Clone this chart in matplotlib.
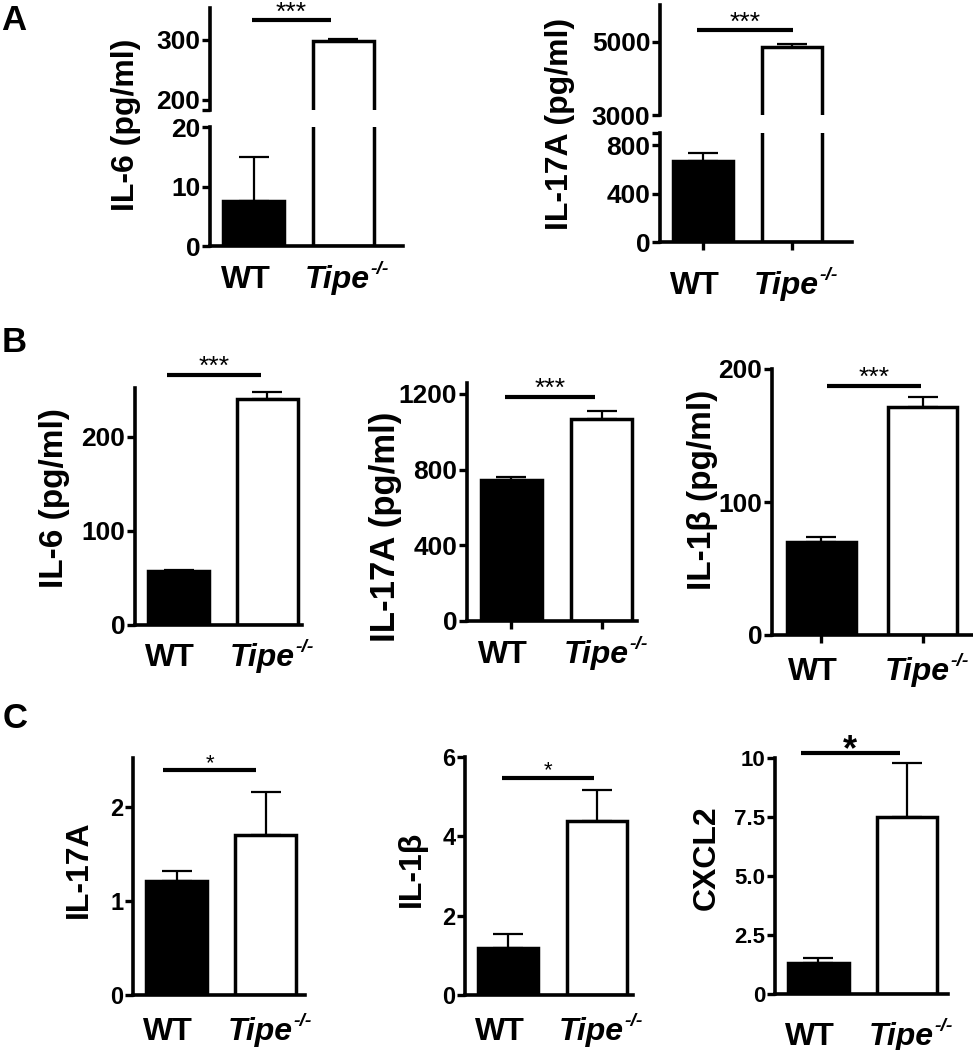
import numpy as np
import matplotlib.pyplot as plt

plt.rcParams['font.family'] = ['Liberation Sans', 'DejaVu Sans']
plt.rcParams['font.weight'] = 'bold'

# group labels
groups = ['WT', 'Tipe']
group_sup = '-/-'

# panel A (broken axes)
a_il6_mean = [7.6, 298]
a_il6_err = [7.3, 3]
a_il17_mean = [670, 4850]
a_il17_err = [67, 85]

# panel B
b_il6_mean = [57, 240]
b_il6_err = [1, 8]
b_il17_mean = [745, 1067]
b_il17_err = [17, 43]
b_il1b_mean = [70, 171.6]
b_il1b_err = [3.7, 7.5]

# panel C
c_il17_mean = [1.21, 1.70]
c_il17_err = [0.11, 0.46]
c_il1b_mean = [1.18, 4.38]
c_il1b_err = [0.35, 0.79]
c_cxcl2_mean = [1.31, 7.5]
c_cxcl2_err = [0.22, 2.3]

W, H = 973, 1050
fig = plt.figure(figsize=(W / 100, H / 100), dpi=100)


# pixel box (left, top, right, bottom) -> figure rect
def box(x0, y0, x1, y1):
    return [x0 / W, 1 - y1 / H, (x1 - x0) / W, (y1 - y0) / H]


def bars(ax, mean, err, xmax, ylim):
    x = np.arange(len(mean))
    ax.bar(x, mean, width=0.68, color=['black', 'white'], edgecolor='black', linewidth=2.5, zorder=2)
    ax.errorbar(x, mean, yerr=[np.zeros(len(err)), err], fmt='none', ecolor='black',
                elinewidth=1.6, capsize=11, capthick=1.6, zorder=3)
    ax.set_xlim(-0.49, xmax)
    ax.set_ylim(*ylim)
    ax.spines['top'].set_visible(False)
    ax.spines['right'].set_visible(False)
    ax.spines['left'].set_linewidth(2.6)
    ax.spines['bottom'].set_linewidth(2.6)


def yaxis(ax, ticks, labels, size=19):
    ax.set_yticks(ticks)
    ax.set_yticklabels(labels)
    ax.tick_params(axis='y', length=6, width=2.4, labelsize=size, pad=1)


def xaxis(ax, tick_len, pad):
    ax.set_xticks([0, 1])
    ax.set_xticklabels([])
    ax.tick_params(axis='x', length=tick_len, width=2.4)
    off = -(tick_len + pad)
    ax.annotate(groups[0], xy=(0, 0), xycoords=('data', 'axes fraction'), xytext=(-6, off),
                textcoords='offset points', ha='center', va='top', fontsize=23, fontweight='bold')
    t = ax.annotate(groups[1], xy=(1, 0), xycoords=('data', 'axes fraction'), xytext=(-4, off),
                    textcoords='offset points', ha='center', va='top', fontsize=23,
                    fontweight='bold', style='italic')
    ax.annotate(group_sup, xy=(1, 1), xycoords=t, xytext=(0.5, 3), textcoords='offset points',
                ha='left', va='top', fontsize=14, fontweight='bold', style='italic')


def sig(ax, x0, x1, y, stars, size=18, off=1, weight='normal'):
    ax.plot([x0, x1], [y, y], color='black', lw=3, clip_on=False, solid_capstyle='butt')
    ax.annotate(stars, xy=((x0 + x1) / 2, y), xytext=(0, off), textcoords='offset points',
                ha='center', va='baseline', fontsize=size, fontweight=weight, annotation_clip=False)


def ylab(x, y, text, size=23):
    fig.text(x / W, 1 - y / H, text, rotation=90, ha='center', va='center', fontsize=size, fontweight='bold')


# ---- A left: IL-6 broken axis
ax_lo = fig.add_axes(box(210, 127, 403, 246))
bars(ax_lo, a_il6_mean, a_il6_err, 1.67, (0, 20))
yaxis(ax_lo, [0, 10, 20], ['0', '10', '20'])
xaxis(ax_lo, 0, 14)
ax_hi = fig.add_axes(box(210, 8, 403, 110))
bars(ax_hi, a_il6_mean, a_il6_err, 1.67, (183, 353))
ax_hi.spines['bottom'].set_visible(False)
ax_hi.set_xticks([])
yaxis(ax_hi, [183, 200, 300], ['', '200', '300'])
sig(ax_hi, -0.02, 0.86, 333, '***', 19, 0)
ylab(126, 125, 'IL-6 (pg/ml)')

# ---- A right: IL-17A broken axis
ax_lo = fig.add_axes(box(660, 133, 852, 242))
bars(ax_lo, a_il17_mean, a_il17_err, 1.68, (0, 900))
yaxis(ax_lo, [0, 400, 800, 900], ['0', '400', '800', ''])
xaxis(ax_lo, 6, 15)
ax_hi = fig.add_axes(box(660, 5, 852, 115))
bars(ax_hi, a_il17_mean, a_il17_err, 1.68, (3000, 6000))
ax_hi.spines['bottom'].set_visible(False)
ax_hi.set_xticks([])
yaxis(ax_hi, [3000, 5000], ['3000', '5000'])
sig(ax_hi, -0.07, 1.01, 5318, '***', 19, 0)
ylab(560, 124, 'IL-17A (pg/ml)')

# ---- B
ax = fig.add_axes(box(135, 388, 302, 625))
bars(ax, b_il6_mean, b_il6_err, 1.39, (0, 252))
yaxis(ax, [0, 100, 200], ['0', '100', '200'])
xaxis(ax, 0, 13)
sig(ax, -0.13, 0.93, 266, '***', 19)
ylab(55, 498, 'IL-6 (pg/ml)', 24)

ax = fig.add_axes(box(467, 383, 637, 621))
bars(ax, b_il17_mean, b_il17_err, 1.39, (0, 1258))
yaxis(ax, [0, 400, 800, 1200], ['0', '400', '800', '1200'])
xaxis(ax, 6, 8)
sig(ax, -0.07, 0.92, 1184, '***', 19)
ylab(385, 527, 'IL-17A (pg/ml)', 25)

ax = fig.add_axes(box(772, 369, 972, 635))
bars(ax, b_il1b_mean, b_il1b_err, 1.49, (0, 200))
yaxis(ax, [0, 100, 200], ['0', '100', '200'])
xaxis(ax, 6, 10)
sig(ax, 0.05, 0.99, 187, '***', 19)
ylab(702, 490, 'IL-1β (pg/ml)', 24)

# ---- C
ax = fig.add_axes(box(133, 758, 305, 995))
bars(ax, c_il17_mean, c_il17_err, 1.44, (0, 2.52))
yaxis(ax, [0, 1, 2], ['0', '1', '2'], 17)
xaxis(ax, 0, 16)
sig(ax, -0.15, 0.89, 2.39, '*', 16)
ylab(79, 869, 'IL-17A')

ax = fig.add_axes(box(465, 757, 633, 995))
bars(ax, c_il1b_mean, c_il1b_err, 1.41, (0, 6))
yaxis(ax, [0, 2, 4, 6], ['0', '2', '4', '6'], 17)
xaxis(ax, 0, 16)
sig(ax, -0.07, 0.97, 5.47, '*', 16)
ylab(412, 869, 'IL-1β')

ax = fig.add_axes(box(775, 758, 948, 994))
bars(ax, c_cxcl2_mean, c_cxcl2_err, 1.46, (0, 10))
yaxis(ax, [0, 2.5, 5, 7.5, 10], ['0', '2.5', '5.0', '7.5', '10'], 16)
xaxis(ax, 0, 20)
sig(ax, -0.2, 0.92, 10.2, '*', 26, -5, 'bold')
ylab(707, 858, 'CXCL2')

# panel letters
for letter, (px, py) in zip(['A', 'B', 'C'], [(14, 20), (14, 343), (15, 718)]):
    fig.text(px / W, 1 - py / H, letter, ha='center', va='center', fontsize=25, fontweight='bold')

fig.savefig('out.png', dpi=100)
